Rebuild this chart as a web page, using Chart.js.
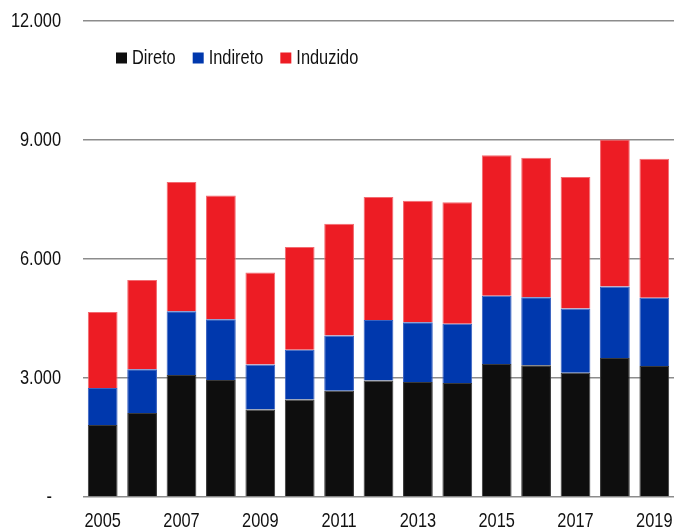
<!DOCTYPE html>
<html lang="pt">
<head>
<meta charset="utf-8">
<title>Impacto econômico 2005–2019</title>
<script src="https://cdn.jsdelivr.net/npm/chart.js@4"></script>
<style>
  html, body { margin: 0; padding: 0; background: #ffffff; }
  #wrap { position: relative; width: 674px; height: 529px; }
</style>
</head>
<body>
<div id="wrap">
  <canvas id="chart" width="674" height="529"></canvas>
</div>
<script>
// Anos da série
const years = ['2005', '2006', '2007', '2008', '2009', '2010', '2011', '2012',
               '2013', '2014', '2015', '2016', '2017', '2018', '2019'];

// Componentes do impacto (empilhados)
const direto   = [1815, 2120, 3075, 2950, 2205, 2455, 2680, 2935, 2900, 2875, 3355, 3320, 3135, 3505, 3300];
const indireto = [ 935, 1100, 1605, 1530, 1135, 1260, 1390, 1530, 1505, 1495, 1720, 1715, 1620, 1800, 1725];
const induzido = [1915, 2250, 3260, 3120, 2320, 2585, 2820, 3095, 3065, 3060, 3540, 3520, 3310, 3705, 3505];

// Marcas do eixo vertical
const yTicks = [0, 3000, 6000, 9000, 12000];

const seriesNames  = ['Direto', 'Indireto', 'Induzido'];
const seriesColors = ['#0e0e0e', '#0038ad', '#ed1c24'];
const seriesEdges  = ['#3a3a3a', '#3a62c0', '#f36a70'];
const seriesData   = [direto, indireto, induzido];

// Texto em fonte estreita: Liberation Sans comprimida horizontalmente
const FONT = "21px 'Liberation Sans', Arial, sans-serif";
const SX = 0.78;
const TEXT_COLOR = '#111';

const fmt = v => v === 0 ? '-  ' : v.toLocaleString('pt-BR');

function narrowText(ctx, text, x, y, align) {
  ctx.save();
  ctx.font = FONT;
  ctx.fillStyle = TEXT_COLOR;
  ctx.textBaseline = 'middle';
  ctx.textAlign = align;
  ctx.translate(x, y);
  ctx.scale(SX, 1);
  ctx.fillText(text, 0, 0);
  const w = ctx.measureText(text).width * SX;
  ctx.restore();
  return w;
}

// Rótulos dos eixos e legenda desenhados no canvas
const labelsPlugin = {
  id: 'narrowLabels',
  afterDraw(chart) {
    const { ctx, chartArea, scales } = chart;
    const y = scales.y, x = scales.x;

    yTicks.forEach(v => {
      narrowText(ctx, fmt(v), chartArea.left - 22, y.getPixelForValue(v), 'right');
    });

    years.forEach((yr, i) => {
      if (i % 2 === 0) {
        narrowText(ctx, yr, x.getPixelForValue(i), chartArea.bottom + 24, 'center');
      }
    });

    // Legenda
    let lx = chartArea.left + 33;
    const ly = 58;
    seriesNames.forEach((name, i) => {
      ctx.fillStyle = seriesColors[i];
      ctx.fillRect(lx, ly - 5.5, 11, 11);
      lx += 16;
      lx += narrowText(ctx, name, lx, ly, 'left');
      lx += 17;
    });
  }
};

const chart = new Chart(document.getElementById('chart'), {
  type: 'bar',
  data: {
    labels: years,
    datasets: seriesNames.map((name, i) => ({
      label: name,
      data: seriesData[i],
      backgroundColor: seriesColors[i],
      borderColor: seriesEdges[i],
      borderWidth: 1,
      categoryPercentage: 1.0,
      barPercentage: 0.755,
      stack: 'total'
    }))
  },
  plugins: [labelsPlugin],
  options: {
    responsive: false,
    animation: false,
    layout: { padding: { top: 21, right: 0, bottom: 32, left: 0 } },
    plugins: {
      legend: { display: false },
      tooltip: { enabled: false }
    },
    scales: {
      x: {
        stacked: true,
        grid: { display: false, drawTicks: false },
        border: { display: false },
        ticks: { display: false }
      },
      y: {
        stacked: true,
        min: yTicks[0],
        max: yTicks[yTicks.length - 1],
        afterBuildTicks: scale => { scale.ticks = yTicks.map(v => ({ value: v })); },
        afterFit: scale => { scale.width = 83; },
        grid: {
          color: '#8c8c8c',
          lineWidth: 1.6,
          drawTicks: false
        },
        border: { display: false },
        ticks: { display: false }
      }
    }
  }
});
</script>
</body>
</html>
